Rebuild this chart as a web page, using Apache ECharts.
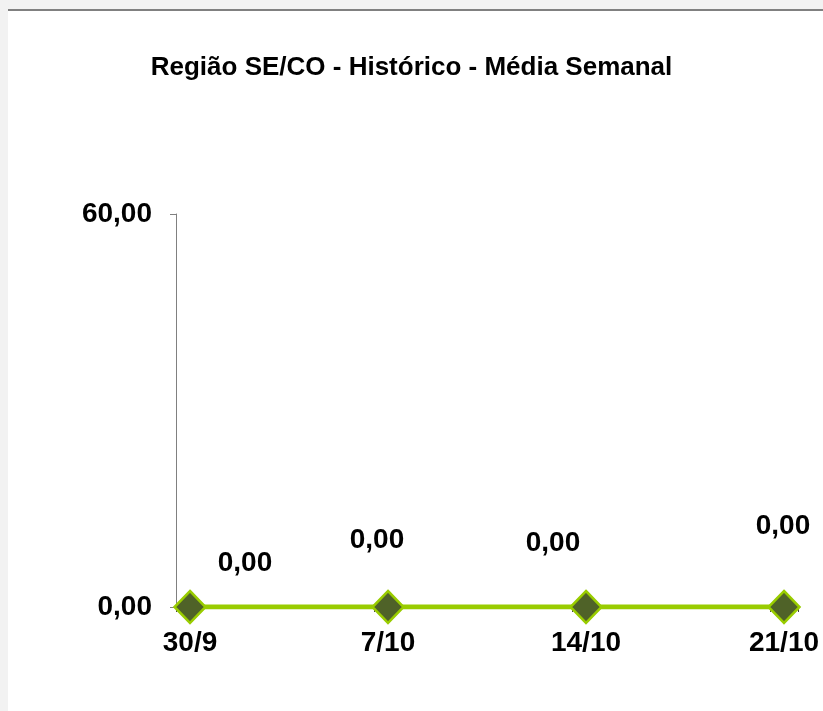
<!DOCTYPE html>
<html>
<head>
<meta charset="utf-8">
<script src="https://cdn.jsdelivr.net/npm/echarts@6/dist/echarts.min.js"></script>
<style>
  html, body { margin: 0; padding: 0; background: #f2f2f2; width: 823px; height: 711px; overflow: hidden; }
  #frame { position: absolute; left: 8px; top: 9px; right: 0; bottom: 0; background: #ffffff; border-top: 2px solid #808080; }
  #chart { position: absolute; left: 0; top: 0; width: 823px; height: 711px; }
</style>
</head>
<body>
<div id="frame"></div>
<div id="chart"></div>
<script>
const titleText = 'Região SE/CO - Histórico - Média Semanal';
const categories = ['30/9', '7/10', '14/10', '21/10'];
const values = [0, 0, 0, 0];
const yTicks = [0, 60];
// label placement (style only)
const labelShift = [[55, -44], [-11, -67], [-33, -64], [-1, -81]];

const fmt = v => Number(v).toFixed(2).replace('.', ',');
const off = 14 / 198;
const FONT = 'Liberation Sans, Arial, sans-serif';

const chart = echarts.init(document.getElementById('chart'), null, { renderer: 'canvas' });
chart.setOption({
  backgroundColor: 'transparent',
  animation: false,
  title: {
    text: titleText,
    left: 'center',
    top: 50,
    textStyle: { fontFamily: FONT, fontWeight: 'bold', fontSize: 26, color: '#000' }
  },
  grid: { left: 176, right: 25, top: 214, bottom: 104 },
  xAxis: [{
    type: 'value',
    min: 0,
    max: categories.length - 1 + 2 * off,
    interval: 1,
    position: 'bottom',
    axisLine: { show: true, onZero: false, lineStyle: { color: '#808080', width: 1 } },
    axisTick: { show: true, length: 5, lineStyle: { color: '#404040', width: 1 } },
    splitLine: { show: false },
    axisLabel: {
      show: true,
      margin: 22,
      padding: [0, 0, 0, 28],
      fontFamily: FONT, fontWeight: 'bold', fontSize: 28, color: '#000',
      formatter: v => {
        const n = Number(v);
        const r = Math.round(n);
        return Math.abs(n - r) < 1e-6 && categories[r] !== undefined ? categories[r] : '';
      }
    }
  }, {
    type: 'value',
    show: false,
    min: -off,
    max: categories.length - 1 + off,
    position: 'bottom',
    axisLine: { show: false, onZero: false },
    axisTick: { show: false },
    axisLabel: { show: false },
    splitLine: { show: false }
  }],
  yAxis: {
    type: 'value',
    min: yTicks[0],
    max: yTicks[1],
    interval: yTicks[1] - yTicks[0],
    axisLine: { show: true, onZero: false, lineStyle: { color: '#808080', width: 1 } },
    axisTick: { show: true, length: 6, lineStyle: { color: '#808080' } },
    splitLine: { show: false },
    axisLabel: {
      margin: 24,
      fontFamily: FONT, fontWeight: 'bold', fontSize: 28, color: '#000',
      formatter: v => fmt(v)
    }
  },
  series: [{
    type: 'line',
    xAxisIndex: 1,
    data: values.map((v, i) => ({
      value: [i, v],
      label: { offset: labelShift[i] }
    })),
    symbol: 'diamond',
    symbolSize: [31, 32],
    lineStyle: { color: '#99cc00', width: 5 },
    itemStyle: { color: '#4f6228', borderColor: '#99cc00', borderWidth: 2.5 },
    label: {
      show: true,
      position: 'inside',
      fontFamily: FONT, fontWeight: 'bold', fontSize: 28, color: '#000',
      formatter: p => fmt(p.value[1])
    },
    z: 5
  }]
});
</script>
</body>
</html>
